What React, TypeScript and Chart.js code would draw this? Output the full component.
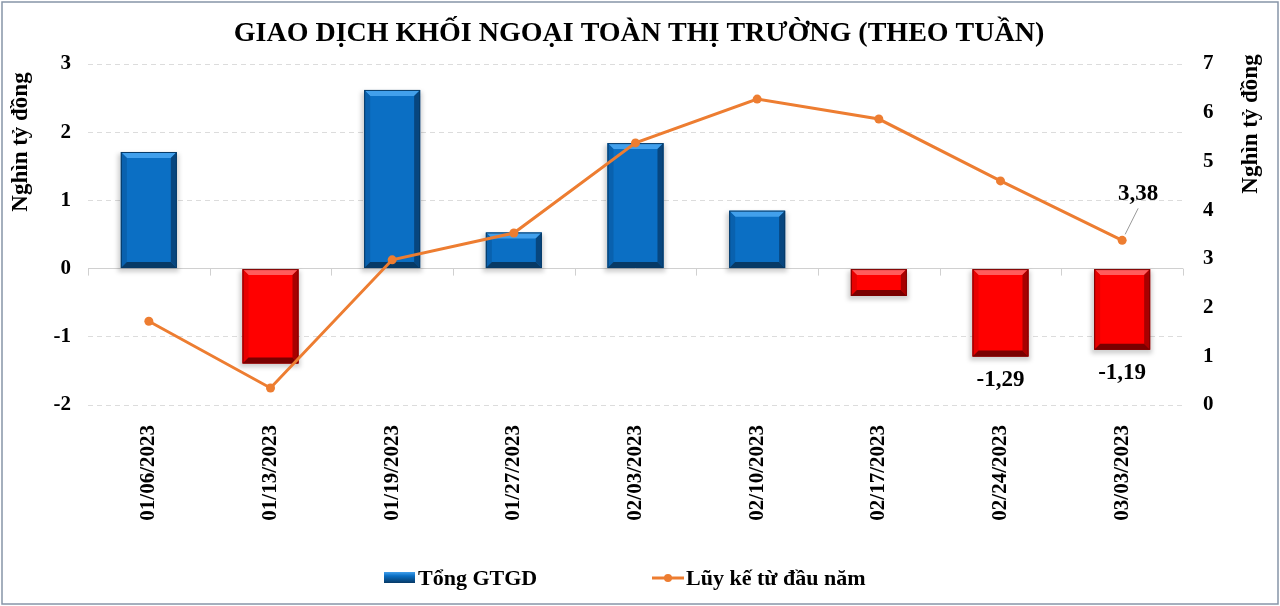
import React, { useEffect, useRef } from "react";
import { Chart, registerables } from "chart.js";

Chart.register(...registerables);

const categories = [
  "01/06/2023", "01/13/2023", "01/19/2023", "01/27/2023", "02/03/2023",
  "02/10/2023", "02/17/2023", "02/24/2023", "03/03/2023",
];
const weeklyValues = [1.71, -1.39, 2.62, 0.53, 1.84, 0.85, -0.4, -1.29, -1.19];
const cumulativeValues = [1.72, 0.35, 2.98, 3.53, 5.38, 6.28, 5.87, 4.6, 3.38];
const barLabels = ["", "", "", "", "", "", "", "-1,29", "-1,19"];
const lineLabels = ["", "", "", "", "", "", "", "", "3,38"];
const leftTicks = [-2, -1, 0, 1, 2, 3];
const rightTicks = [0, 1, 2, 3, 4, 5, 6, 7];

const TITLE = "GIAO DỊCH KHỐI NGOẠI TOÀN THỊ TRƯỜNG (THEO TUẦN)";
const AXIS_TITLE = "Nghìn tỷ đồng";
const LEGEND_BAR = "Tổng GTGD";
const LEGEND_LINE = "Lũy kế từ đầu năm";

const FONT = "'Liberation Serif', 'Times New Roman', serif";
const ORANGE = "#ED7D31";
const BLUE = "#0B6FC4";
const RED = "#FF0000";

const decorPlugin = {
  id: "decor",
  beforeDraw(chart: any) {
    const { ctx, width, height } = chart;
    ctx.save();
    ctx.fillStyle = "#ffffff";
    ctx.fillRect(0, 0, width, height);
    ctx.restore();
  },
  afterDatasetDraw(chart: any, args: any) {
    if (args.index !== 0) return;
    const { ctx } = chart;
    const meta = chart.getDatasetMeta(0);
    ctx.save();
    meta.data.forEach((bar: any, i: number) => {
      const v = weeklyValues[i];
      const l = bar.x - bar.width / 2;
      const r = bar.x + bar.width / 2;
      const t = Math.min(bar.y, bar.base);
      const b = Math.max(bar.y, bar.base);
      const bv = Math.min(6, (b - t) / 2);
      const pos = v >= 0;
      const light = pos ? "#42A0EC" : "#FF5C5C";
      const side = pos ? "#0961AE" : "#E80000";
      const dark = pos ? "#073A66" : "#7A0000";
      const right = pos ? "#07467F" : "#A80000";
      ctx.fillStyle = light;
      ctx.beginPath();
      ctx.moveTo(l, t); ctx.lineTo(r, t); ctx.lineTo(r - bv, t + bv); ctx.lineTo(l + bv, t + bv);
      ctx.closePath(); ctx.fill();
      ctx.fillStyle = side;
      ctx.beginPath();
      ctx.moveTo(l, t); ctx.lineTo(l + bv, t + bv); ctx.lineTo(l + bv, b - bv); ctx.lineTo(l, b);
      ctx.closePath(); ctx.fill();
      ctx.fillStyle = right;
      ctx.beginPath();
      ctx.moveTo(r, t); ctx.lineTo(r, b); ctx.lineTo(r - bv, b - bv); ctx.lineTo(r - bv, t + bv);
      ctx.closePath(); ctx.fill();
      ctx.fillStyle = dark;
      ctx.beginPath();
      ctx.moveTo(l, b); ctx.lineTo(r, b); ctx.lineTo(r - bv, b - bv); ctx.lineTo(l + bv, b - bv);
      ctx.closePath(); ctx.fill();
      ctx.strokeStyle = dark;
      ctx.lineWidth = 1;
      ctx.strokeRect(l + 0.5, t + 0.5, r - l - 1, b - t - 1);
    });
    ctx.restore();
  },
  beforeDatasetsDraw(chart: any) {
    const { ctx } = chart;
    const meta = chart.getDatasetMeta(0);
    ctx.save();
    ctx.fillStyle = "rgba(0,0,0,0.18)";
    ctx.filter = "blur(2px)";
    meta.data.forEach((bar: any) => {
      const l = bar.x - bar.width / 2;
      const t = Math.min(bar.y, bar.base);
      const b = Math.max(bar.y, bar.base);
      ctx.fillRect(l - 3, t + 2, bar.width + 5, b - t + 2);
    });
    ctx.filter = "none";
    const xs = chart.scales.x;
    const y0 = chart.scales.y.getPixelForValue(0);
    const step = (xs.right - xs.left) / categories.length;
    ctx.strokeStyle = "#d0d0d0";
    ctx.lineWidth = 1;
    for (let i = 0; i <= categories.length; i++) {
      const x = Math.round(xs.getPixelForValue(0) - step / 2 + i * step) + 0.5;
      ctx.beginPath();
      ctx.moveTo(x, y0);
      ctx.lineTo(x, y0 + 7);
      ctx.stroke();
    }
    ctx.restore();
  },
  afterDraw(chart: any) {
    const { ctx, width, height } = chart;
    ctx.save();
    ctx.strokeStyle = "#8795A8";
    ctx.lineWidth = 1.5;
    ctx.strokeRect(2, 2, width - 4, height - 4);
    ctx.fillStyle = "#000";
    ctx.font = `bold 28px ${FONT}`;
    ctx.textAlign = "center";
    ctx.textBaseline = "middle";
    ctx.fillText(TITLE, 639, 34);
    ctx.font = `bold 23px ${FONT}`;
    ctx.save();
    ctx.translate(21, 142);
    ctx.rotate(-Math.PI / 2);
    ctx.fillText(AXIS_TITLE, 0, 0);
    ctx.restore();
    ctx.save();
    ctx.translate(1251, 124);
    ctx.rotate(-Math.PI / 2);
    ctx.fillText(AXIS_TITLE, 0, 0);
    ctx.restore();
    ctx.font = `bold 23px ${FONT}`;
    const barMeta = chart.getDatasetMeta(0);
    barMeta.data.forEach((bar: any, i: number) => {
      if (!barLabels[i]) return;
      const b = Math.max(bar.y, bar.base);
      ctx.textAlign = "center";
      ctx.textBaseline = "middle";
      ctx.fillText(barLabels[i], bar.x, b + 23);
    });
    const lineMeta = chart.getDatasetMeta(1);
    lineMeta.data.forEach((pt: any, i: number) => {
      if (!lineLabels[i]) return;
      ctx.strokeStyle = "#9a9a9a";
      ctx.lineWidth = 1;
      ctx.beginPath();
      ctx.moveTo(pt.x + 3, pt.y - 6);
      ctx.lineTo(pt.x + 16, pt.y - 32);
      ctx.stroke();
      ctx.fillStyle = "#000";
      ctx.textAlign = "center";
      ctx.textBaseline = "middle";
      ctx.fillText(lineLabels[i], pt.x + 16, pt.y - 46);
    });
    const ly = 578;
    const grad = ctx.createLinearGradient(0, ly - 6, 0, ly + 5);
    grad.addColorStop(0, "#42A0EC");
    grad.addColorStop(0.35, BLUE);
    grad.addColorStop(1, "#073A66");
    ctx.fillStyle = grad;
    ctx.fillRect(384, ly - 6, 31, 11);
    ctx.fillStyle = "#000";
    ctx.font = `bold 22px ${FONT}`;
    ctx.textAlign = "left";
    ctx.textBaseline = "middle";
    ctx.fillText(LEGEND_BAR, 418, ly + 1);
    ctx.strokeStyle = ORANGE;
    ctx.lineWidth = 3;
    ctx.beginPath();
    ctx.moveTo(652, ly);
    ctx.lineTo(684, ly);
    ctx.stroke();
    ctx.fillStyle = ORANGE;
    ctx.beginPath();
    ctx.arc(668, ly, 4, 0, Math.PI * 2);
    ctx.fill();
    ctx.fillStyle = "#000";
    ctx.fillText(LEGEND_LINE, 686, ly + 1);
    ctx.restore();
  },
};

export default function App() {
  const ref = useRef<HTMLCanvasElement | null>(null);

  useEffect(() => {
    document.body.style.margin = "0";
    const canvas = ref.current;
    if (!canvas) return;
    const tickFont = { family: FONT, size: 21, weight: "bold" };
    const chart = new Chart(canvas, {
      type: "bar",
      data: {
        labels: categories,
        datasets: [
          {
            type: "bar",
            label: LEGEND_BAR,
            data: weeklyValues,
            yAxisID: "y",
            order: 1,
            backgroundColor: (c: any) => ((c.raw ?? 0) >= 0 ? BLUE : RED),
            borderWidth: 0,
            barPercentage: 0.46,
            categoryPercentage: 1,
          },
          {
            type: "line",
            label: LEGEND_LINE,
            data: cumulativeValues,
            yAxisID: "y1",
            order: 0,
            borderColor: ORANGE,
            backgroundColor: ORANGE,
            borderWidth: 3,
            pointRadius: 4.5,
            pointBackgroundColor: ORANGE,
            pointBorderWidth: 0,
            tension: 0,
          },
        ] as any,
      },
      options: {
        animation: false,
        responsive: false,
        maintainAspectRatio: false,
        layout: { padding: { top: 64, left: 0, right: 0, bottom: 0 } },
        plugins: {
          legend: { display: false },
          title: { display: false },
          tooltip: { enabled: false },
        },
        scales: {
          x: {
            grid: { display: false },
            border: { display: false },
            ticks: {
              maxRotation: 90,
              minRotation: 90,
              padding: 12,
              color: "#000",
              font: tickFont,
            },
            afterFit: (s: any) => {
              s.height = 201;
            },
          },
          y: {
            position: "left",
            min: -2,
            max: 3,
            afterBuildTicks: (s: any) => {
              s.ticks = leftTicks.map((v) => ({ value: v }));
            },
            grid: {
              color: (c: any) => (c.tick && c.tick.value === 0 ? "#d0d0d0" : "#dcdcdc"),
              lineWidth: 1,
              drawTicks: false,
            },
            border: {
              display: false,
              dash: (c: any) => (c.tick && c.tick.value === 0 ? [] : [5, 4]),
            },
            ticks: {
              padding: 17,
              color: "#000",
              font: tickFont,
              callback: (v: any) => String(v),
            },
            afterFit: (s: any) => {
              s.width = 88;
            },
          },
          y1: {
            position: "right",
            min: 0,
            max: 7,
            afterBuildTicks: (s: any) => {
              s.ticks = rightTicks.map((v) => ({ value: v }));
            },
            grid: { display: false, drawOnChartArea: false, drawTicks: false },
            border: { display: false },
            ticks: {
              padding: 20,
              color: "#000",
              font: tickFont,
              callback: (v: any) => String(v),
            },
            afterFit: (s: any) => {
              s.width = 97;
            },
          },
        },
      } as any,
      plugins: [decorPlugin],
    });
    return () => chart.destroy();
  }, []);

  return (
    <div style={{ width: 1280, height: 606, position: "relative" }}>
      <canvas ref={ref} width={1280} height={606} style={{ display: "block", width: 1280, height: 606 }} />
    </div>
  );
}
